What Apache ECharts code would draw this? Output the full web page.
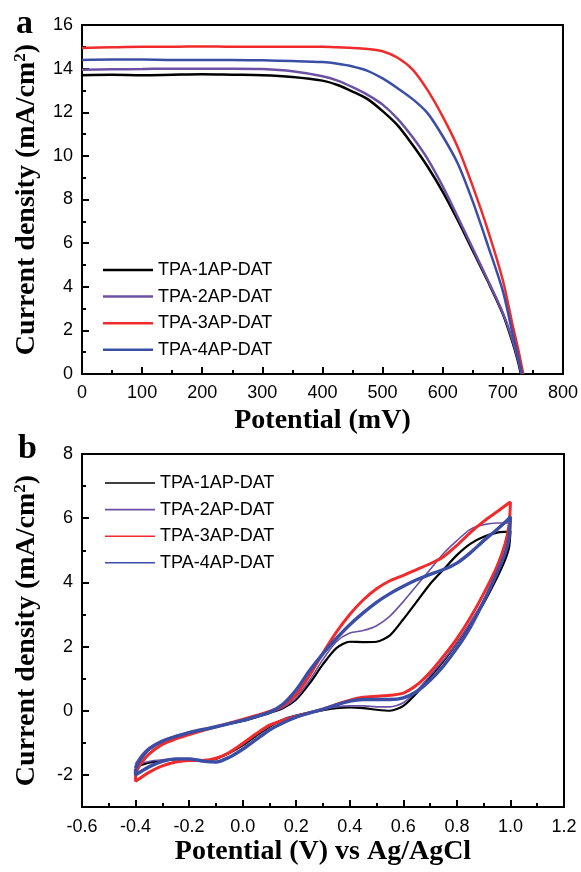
<!DOCTYPE html>
<html>
<head>
<meta charset="utf-8">
<script src="https://cdn.jsdelivr.net/npm/echarts@6/dist/echarts.min.js"></script>
<style>html,body{margin:0;padding:0;background:#fff;}#c{width:581px;height:872px;}</style>
</head>
<body>
<div id="c"></div>
<script>
// ---------- Panel a: J-V curves ----------
const names = ['TPA-1AP-DAT', 'TPA-2AP-DAT', 'TPA-3AP-DAT', 'TPA-4AP-DAT'];
const colors = ['#000000', '#6b51a3', '#ef2b2b', '#3b4ea6'];
const jvV = [0, 50, 100, 150, 200, 250, 300, 350, 400, 425, 450, 475, 500, 525, 550, 575, 600, 625, 650, 675, 700, 715, 725];
const jv1 = [13.70, 13.72, 13.70, 13.72, 13.74, 13.72, 13.70, 13.62, 13.45, 13.25, 12.95, 12.60, 12.05, 11.40, 10.50, 9.50, 8.35, 7.05, 5.65, 4.25, 2.75, 1.55, 0.60];
const jv2 = [13.95, 13.97, 13.98, 14.00, 14.00, 14.00, 13.98, 13.88, 13.65, 13.45, 13.15, 12.80, 12.35, 11.70, 10.85, 9.85, 8.60, 7.20, 5.75, 4.30, 2.80, 1.65, 0.70];
const jv3 = [14.95, 14.98, 15.00, 15.00, 15.02, 15.00, 15.00, 15.00, 15.00, 14.98, 14.95, 14.90, 14.80, 14.50, 13.95, 13.00, 11.80, 10.40, 8.60, 6.60, 4.30, 2.40, 1.20];
const jv4 = [14.40, 14.42, 14.42, 14.40, 14.40, 14.40, 14.38, 14.35, 14.30, 14.22, 14.10, 13.90, 13.55, 13.10, 12.60, 11.95, 10.90, 9.65, 7.90, 5.90, 3.80, 2.00, 0.85];
const vocs = [730, 731, 734, 732];
const xTicksA = {min: 0, max: 800, interval: 100};
const yTicksA = {min: 0, max: 16, interval: 2};

// ---------- Panel b: cyclic voltammograms ([potential V, current mA/cm2] in scan order) ----------
const cv1 = [[-0.4,-1.72],[-0.38,-1.45],[-0.35,-1.2],[-0.3,-0.95],[-0.25,-0.8],[-0.2,-0.68],[-0.1,-0.5],[0,-0.32],[0.05,-0.2],[0.1,-0.07],[0.15,0.08],[0.2,0.35],[0.25,0.85],[0.3,1.45],[0.35,1.95],[0.4,2.15],[0.45,2.14],[0.5,2.15],[0.55,2.35],[0.6,2.85],[0.65,3.4],[0.7,3.95],[0.75,4.4],[0.8,4.85],[0.85,5.2],[0.9,5.42],[0.95,5.55],[0.99,5.58],[1.0,5.6],
  [0.995,5.1],[0.98,4.7],[0.95,4.15],[0.9,3.35],[0.85,2.7],[0.8,2.1],[0.75,1.55],[0.7,1.05],[0.65,0.55],[0.6,0.15],[0.55,0.0],[0.5,0.03],[0.45,0.08],[0.4,0.1],[0.35,0.08],[0.3,0.02],[0.2,-0.15],[0.15,-0.28],[0.1,-0.5],[0.05,-0.78],[0,-1.08],[-0.05,-1.32],[-0.1,-1.5],[-0.15,-1.56],[-0.2,-1.52],[-0.25,-1.52],[-0.3,-1.56],[-0.35,-1.62],[-0.4,-1.75],[-0.4,-1.72]];
const cv2 = [[-0.4,-1.65],[-0.38,-1.4],[-0.35,-1.15],[-0.3,-0.92],[-0.25,-0.78],[-0.2,-0.66],[-0.1,-0.5],[0,-0.32],[0.05,-0.2],[0.1,-0.07],[0.15,0.1],[0.2,0.4],[0.25,0.95],[0.3,1.6],[0.35,2.15],[0.4,2.42],[0.45,2.5],[0.5,2.65],[0.55,2.95],[0.6,3.4],[0.65,3.9],[0.7,4.4],[0.75,4.9],[0.8,5.3],[0.85,5.65],[0.9,5.8],[0.95,5.85],[1.0,5.85],
  [0.995,5.3],[0.98,4.9],[0.95,4.25],[0.9,3.45],[0.85,2.75],[0.8,2.1],[0.75,1.58],[0.7,1.1],[0.65,0.62],[0.6,0.25],[0.55,0.12],[0.5,0.12],[0.45,0.15],[0.4,0.15],[0.35,0.12],[0.3,0.05],[0.2,-0.14],[0.15,-0.27],[0.1,-0.48],[0.05,-0.75],[0,-1.05],[-0.05,-1.3],[-0.1,-1.47],[-0.15,-1.53],[-0.2,-1.5],[-0.25,-1.5],[-0.3,-1.53],[-0.35,-1.58],[-0.4,-1.68],[-0.4,-1.65]];
const cv3 = [[-0.4,-1.95],[-0.38,-1.65],[-0.35,-1.35],[-0.3,-1.05],[-0.25,-0.88],[-0.2,-0.74],[-0.1,-0.5],[0,-0.27],[0.05,-0.15],[0.1,-0.02],[0.15,0.15],[0.2,0.5],[0.25,1.1],[0.3,1.8],[0.35,2.45],[0.4,3.0],[0.45,3.45],[0.5,3.8],[0.55,4.05],[0.6,4.22],[0.65,4.4],[0.7,4.58],[0.75,4.8],[0.8,5.15],[0.85,5.55],[0.9,5.9],[0.95,6.2],[0.99,6.45],[1.0,6.5],
  [0.995,5.8],[0.98,5.2],[0.95,4.5],[0.9,3.65],[0.85,2.9],[0.8,2.25],[0.75,1.7],[0.7,1.2],[0.65,0.8],[0.6,0.55],[0.55,0.48],[0.5,0.45],[0.45,0.42],[0.4,0.33],[0.35,0.2],[0.3,0.05],[0.2,-0.18],[0.15,-0.3],[0.1,-0.45],[0.05,-0.72],[0,-1.02],[-0.05,-1.3],[-0.1,-1.48],[-0.15,-1.55],[-0.2,-1.55],[-0.25,-1.6],[-0.3,-1.72],[-0.35,-1.92],[-0.4,-2.2],[-0.4,-1.95]];
const cv4 = [[-0.4,-1.8],[-0.38,-1.5],[-0.35,-1.2],[-0.3,-0.95],[-0.25,-0.8],[-0.2,-0.68],[-0.1,-0.5],[0,-0.3],[0.05,-0.18],[0.1,-0.05],[0.15,0.2],[0.2,0.65],[0.25,1.25],[0.3,1.78],[0.35,2.25],[0.4,2.68],[0.45,3.05],[0.5,3.38],[0.55,3.65],[0.6,3.88],[0.65,4.08],[0.7,4.25],[0.75,4.4],[0.8,4.6],[0.85,4.92],[0.9,5.3],[0.95,5.65],[0.99,5.95],[1.0,6.05],
  [0.995,5.4],[0.98,4.9],[0.95,4.3],[0.9,3.4],[0.85,2.6],[0.8,1.95],[0.75,1.4],[0.7,0.95],[0.65,0.6],[0.6,0.4],[0.55,0.35],[0.5,0.35],[0.45,0.35],[0.4,0.3],[0.35,0.18],[0.3,0.05],[0.2,-0.2],[0.15,-0.38],[0.1,-0.6],[0.05,-0.9],[0,-1.2],[-0.05,-1.45],[-0.1,-1.6],[-0.15,-1.57],[-0.2,-1.5],[-0.25,-1.5],[-0.3,-1.58],[-0.35,-1.75],[-0.4,-2.0],[-0.4,-1.8]];
const xTicksB = {min: -0.6, max: 1.2, interval: 0.2};
const yRangeB = {min: -3, max: 8};
const yMajorB = [-2, 0, 2, 4, 6, 8];
const yMinorB = [-1, 1, 3, 5, 7];

const jvSets = [jv1, jv2, jv3, jv4];
const cvSets = [cv1, cv2, cv3, cv4];
const cvWidths = [2.2, 1.6, 3.0, 3.4];

const SANS = '"Liberation Sans", Arial, sans-serif';
const SERIF = '"Liberation Serif", "Times New Roman", serif';

function labelStyle(margin) {
  return {color: '#000', fontFamily: SANS, fontSize: 18, margin: margin};
}
const yName = '{m|Current density (mA/cm}{s|2}{m|)}';
const yNameStyle = {
  rich: {
    m: {fontFamily: SERIF, fontWeight: 'bold', fontSize: 28, color: '#000', lineHeight: 30},
    s: {fontFamily: SERIF, fontWeight: 'bold', fontSize: 17, color: '#000', verticalAlign: 'top', lineHeight: 17}
  }
};
const xNameStyle = {fontFamily: SERIF, fontWeight: 'bold', fontSize: 28, color: '#000'};
const axisLine = {show: true, onZero: false, lineStyle: {color: '#000', width: 2}};
const tickMajor = {show: true, inside: true, length: 7, lineStyle: {color: '#000', width: 2}};
const tickMinor = {show: true, splitNumber: 2, length: 4, lineStyle: {color: '#000', width: 2}};

const chart = echarts.init(document.getElementById('c'), null, {renderer: 'canvas'});
const series = [];
names.forEach((n, i) => {
  series.push({
    name: n, type: 'line', xAxisIndex: 0, yAxisIndex: 0, showSymbol: false, symbol: 'none',
    smooth: 0.3, data: jvV.map((v, k) => [v, jvSets[i][k]]).concat([[vocs[i], 0]]),
    lineStyle: {color: colors[i], width: 2.5}, itemStyle: {color: colors[i]}, z: 3 + i
  });
});
names.forEach((n, i) => {
  series.push({
    name: n, type: 'line', xAxisIndex: 1, yAxisIndex: 1, showSymbol: false, symbol: 'none',
    smooth: 0.25, data: cvSets[i],
    lineStyle: {color: colors[i], width: cvWidths[i]}, itemStyle: {color: colors[i]}, z: 3 + i
  });
});

chart.setOption({
  animation: false,
  backgroundColor: '#fff',
  grid: [
    {left: 82, top: 25, width: 481, height: 349, show: true, borderColor: '#000', borderWidth: 2, backgroundColor: 'transparent'},
    {left: 82, top: 454, width: 482, height: 353, show: true, borderColor: '#000', borderWidth: 2, backgroundColor: 'transparent'}
  ],
  xAxis: [
    {type: 'value', gridIndex: 0, min: xTicksA.min, max: xTicksA.max, interval: xTicksA.interval,
     name: 'Potential (mV)', nameLocation: 'middle', nameGap: 33, nameTextStyle: xNameStyle,
     axisLine: axisLine, axisTick: tickMajor, minorTick: tickMinor,
     splitLine: {show: false}, minorSplitLine: {show: false}, axisLabel: labelStyle(10)},
    {type: 'value', gridIndex: 1, min: xTicksB.min, max: xTicksB.max, interval: xTicksB.interval,
     name: 'Potential (V) vs Ag/AgCl', nameLocation: 'middle', nameGap: 31, nameTextStyle: xNameStyle,
     axisLine: axisLine, axisTick: tickMajor, minorTick: tickMinor,
     splitLine: {show: false}, minorSplitLine: {show: false},
     axisLabel: Object.assign(labelStyle(11), {formatter: v => (Math.abs(v) < 1e-9 ? 0 : v).toFixed(1)})}
  ],
  yAxis: [
    {type: 'value', gridIndex: 0, min: yTicksA.min, max: yTicksA.max, interval: yTicksA.interval,
     name: yName, nameLocation: 'middle', nameGap: 40, nameTextStyle: yNameStyle,
     axisLine: axisLine, axisTick: tickMajor, minorTick: tickMinor,
     splitLine: {show: false}, minorSplitLine: {show: false}, axisLabel: labelStyle(9)},
    {type: 'value', gridIndex: 1, min: yRangeB.min, max: yRangeB.max,
     name: yName, nameLocation: 'middle', nameGap: 40, nameTextStyle: yNameStyle,
     axisLine: axisLine,
     axisTick: Object.assign({}, tickMajor, {customValues: yMajorB}),
     splitLine: {show: false}, axisLabel: Object.assign(labelStyle(9), {customValues: yMajorB})},
    {type: 'value', gridIndex: 1, min: yRangeB.min, max: yRangeB.max, position: 'left', offset: 0,
     axisLine: {show: false, onZero: false},
     axisTick: {show: true, inside: true, length: 4, customValues: yMinorB, lineStyle: {color: '#000', width: 2}},
     splitLine: {show: false}, axisLabel: {show: false}}
  ],
  legend: [
    {orient: 'vertical', left: 98, top: 256, data: names, selectedMode: false,
     icon: 'rect', itemWidth: 50, itemHeight: 2.5, itemGap: 8.6,
     textStyle: {fontFamily: SANS, fontSize: 18, color: '#000', lineHeight: 18}},
    {orient: 'vertical', left: 100, top: 469, data: names, selectedMode: false,
     icon: 'rect', itemWidth: 50, itemHeight: 1.6, itemGap: 8.6,
     textStyle: {fontFamily: SANS, fontSize: 18, color: '#000', lineHeight: 18}}
  ],
  graphic: [
    {type: 'text', left: 16, top: 7, style: {text: 'a', font: 'bold 34px ' + SERIF, fill: '#000'}},
    {type: 'text', left: 18, top: 432, style: {text: 'b', font: 'bold 34px ' + SERIF, fill: '#000'}}
  ],
  series: series
});
</script>
</body>
</html>
